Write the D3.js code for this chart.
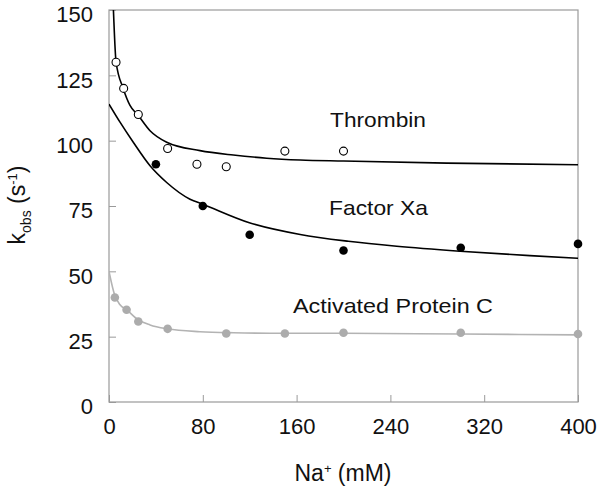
<!DOCTYPE html>
<html>
<head>
<meta charset="utf-8">
<script src="https://cdn.jsdelivr.net/npm/d3@7"></script>
<style>
  html, body { margin: 0; padding: 0; background: #fff; }
  svg { display: block; font-family: Arial, "Liberation Sans", sans-serif; }
</style>
</head>
<body>
<svg id="chart" width="601" height="490"></svg>
<script>
// ---- data ----
const xTicks = [0, 80, 160, 240, 320, 400];
const yTicks = [0, 25, 50, 75, 100, 125, 150];

// measured points: [Na+ (mM), kobs (s^-1)]
const thrombinPts = [[6, 130], [12.5, 120], [25, 110], [50, 97], [75, 91], [100, 90], [150, 96], [200, 96]];
const factorXaPts = [[40, 91], [80, 75], [120, 64], [200, 58], [300, 59], [400, 60.5]];
const apcPts = [[5, 40], [15, 35.3], [25, 30.8], [50, 28], [100, 26.2], [150, 26.2], [200, 26.5], [300, 26.5], [400, 26]];

// fitted curves
const thrombinFit = [[3.3, 155], [3.7, 150.7], [6, 130.2], [12.2, 119.9], [17.9, 113.5], [25, 109.6], [35, 103.8], [49.2, 99.4], [77.6, 96.2], [106, 94.5], [134.5, 93.3], [163, 92.6], [200, 92.2], [288, 91.4], [400, 90.8]];
const factorXaFit = [[0, 114], [9.4, 107.1], [20.7, 99.4], [35, 90.4], [49.2, 84], [69.1, 77.6], [79.9, 75.7], [119.7, 68.6], [163.1, 64.1], [204.1, 61.5], [245.4, 59.6], [299.6, 57.7], [359, 56], [400, 55]];
const apcFit = [[0, 50], [4.8, 41], [9.4, 37.2], [15, 35.3], [25, 31.4], [35, 29.5], [50, 28], [77.6, 26.9], [106, 26.5], [150, 26.3], [200, 26.3], [300, 26.0], [400, 25.7]];

const seriesLabels = ["Thrombin", "Factor Xa", "Activated Protein C"];

// ---- drawing ----
const svg = d3.select("#chart");
const x = d3.scaleLinear().domain([0, 400]).range([109, 578]);
const y = d3.scaleLinear().domain([0, 150]).range([402, 10]);

const frameColor = "#9a9a9a";

svg.append("defs").append("clipPath").attr("id", "plotclip")
  .append("rect").attr("x", x(0)).attr("y", y(150))
  .attr("width", x(400) - x(0)).attr("height", y(0) - y(150));

const yAxis = d3.axisLeft(y).tickValues(yTicks).tickSizeInner(-7).tickSizeOuter(0).tickPadding(16);
const xAxis = d3.axisBottom(x).tickValues(xTicks).tickSizeInner(-7).tickSizeOuter(0).tickPadding(16);

const gy = svg.append("g").attr("transform", `translate(${x(0)},0)`).call(yAxis);
const gx = svg.append("g").attr("transform", `translate(0,${y(0)})`).call(xAxis);
[gy, gx].forEach(g => {
  g.select(".domain").remove();
  g.selectAll(".tick line").attr("stroke", frameColor);
  g.selectAll(".tick text").attr("fill", "#111").style("font-size", "22px")
    .attr("font-family", "Arial, 'Liberation Sans', sans-serif");
});
gy.selectAll(".tick text").attr("dy", "0.53em");

svg.append("rect")
  .attr("x", x(0)).attr("y", y(150))
  .attr("width", x(400) - x(0)).attr("height", y(0) - y(150))
  .attr("fill", "none").attr("stroke", frameColor).attr("stroke-width", 1.2);

const plot = svg.append("g").attr("clip-path", "url(#plotclip)");
const line = d3.line().x(d => x(d[0])).y(d => y(d[1])).curve(d3.curveMonotoneX);

plot.append("path").datum(apcFit).attr("d", line)
  .attr("fill", "none").attr("stroke", "#b3b3b3").attr("stroke-width", 1.6);
plot.append("path").datum(factorXaFit).attr("d", line)
  .attr("fill", "none").attr("stroke", "#000").attr("stroke-width", 1.6);
plot.append("path").datum(thrombinFit).attr("d", line)
  .attr("fill", "none").attr("stroke", "#000").attr("stroke-width", 1.6);

svg.append("g").selectAll("circle").data(apcPts).join("circle")
  .attr("cx", d => x(d[0])).attr("cy", d => y(d[1])).attr("r", 4.3)
  .attr("fill", "#acacac");
svg.append("g").selectAll("circle").data(factorXaPts).join("circle")
  .attr("cx", d => x(d[0])).attr("cy", d => y(d[1])).attr("r", 4.3)
  .attr("fill", "#000");
svg.append("g").selectAll("circle").data(thrombinPts).join("circle")
  .attr("cx", d => x(d[0])).attr("cy", d => y(d[1])).attr("r", 4)
  .attr("fill", "#fff").attr("stroke", "#000").attr("stroke-width", 1.1);

const labelPos = [[330, 127, 96], [329, 215, 99], [293, 313, 200]];
svg.append("g").selectAll("text").data(seriesLabels).join("text")
  .attr("x", (d, i) => labelPos[i][0]).attr("y", (d, i) => labelPos[i][1])
  .attr("textLength", (d, i) => labelPos[i][2]).attr("lengthAdjust", "spacingAndGlyphs")
  .attr("fill", "#111").style("font-size", "21px")
  .text(d => d);

const xt = svg.append("text").attr("x", 343).attr("y", 481).attr("text-anchor", "middle")
  .attr("fill", "#111").style("font-size", "23px");
xt.append("tspan").text("Na");
xt.append("tspan").text("+").attr("dy", -8).style("font-size", "13px");
xt.append("tspan").text(" (mM)").attr("dy", 8);

const yt = svg.append("text").attr("transform", "translate(25,205) rotate(-90)")
  .attr("text-anchor", "middle").attr("fill", "#111").style("font-size", "23px");
yt.append("tspan").text("k");
yt.append("tspan").text("obs").attr("dy", 6).style("font-size", "14px");
yt.append("tspan").text(" (s").attr("dy", -6);
yt.append("tspan").text("-1").attr("dy", -8).style("font-size", "13px");
yt.append("tspan").text(")").attr("dy", 8);
</script>
</body>
</html>
